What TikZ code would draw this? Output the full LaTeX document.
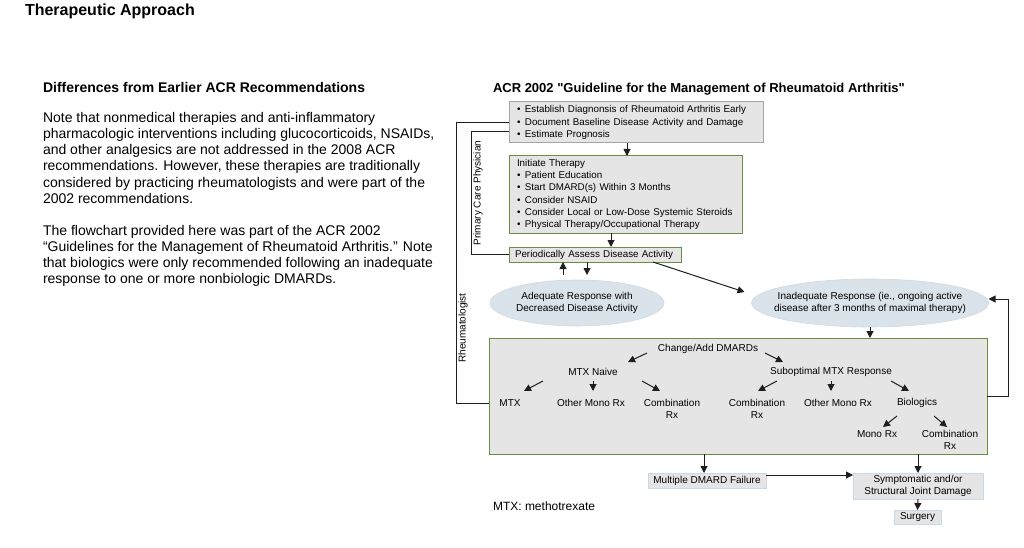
\documentclass[tikz,border=0pt]{standalone}
\usepackage{fontspec}
\setmainfont{Liberation Sans}
\usetikzlibrary{arrows.meta,calc,shapes.geometric}
\definecolor{boxfill}{RGB}{229,229,229}
\definecolor{boxgray}{RGB}{165,165,165}
\definecolor{boxgreen}{RGB}{104,144,62}
\definecolor{ellfill}{RGB}{219,227,234}
\definecolor{ellline}{RGB}{205,218,228}
\definecolor{lightline}{RGB}{200,218,230}
\definecolor{ink}{RGB}{30,30,30}
\begin{document}
\begin{tikzpicture}[x=1pt,y=-1pt,
 every node/.style={inner sep=0pt, outer sep=0pt},
 dtext/.style={font=\fontsize{10}{12.2}\selectfont, align=center},
 graybox/.style={draw=boxgray, fill=boxfill, line width=1pt, align=left, font=\fontsize{9.8}{12.2}\selectfont, inner xsep=8pt},
 greenbox/.style={graybox, draw=boxgreen},
 lightbox/.style={draw=lightline, fill=boxfill, line width=0.8pt, font=\fontsize{10}{12}\selectfont, align=center},
 ell/.style={ellipse, draw=ellline, fill=ellfill, line width=0.6pt, inner sep=0pt},
 arr/.style={draw=ink, line width=1pt, -{Triangle[length=7pt,width=7pt]}},
 conn/.style={draw=ink, line width=1pt},
 para/.style={anchor=base west, font=\fontsize{14}{16}\selectfont},
 side/.style={rotate=90, font=\fontsize{10}{12}\selectfont},
]
\useasboundingbox (0,0) rectangle (1024,548);

% left text
\node[anchor=base west, font=\fontsize{16}{18}\selectfont\bfseries] (title) at (25,16) {Therapeutic Approach};
\node[anchor=base west, font=\fontsize{14}{16}\selectfont\bfseries] (head) at (43,93) {Differences from Earlier ACR Recommendations};
\node[para] (p1) at (43,123) {Note that nonmedical therapies and anti-inflammatory};
\node[para] (p2) at (43,139) {pharmacologic interventions including glucocorticoids, NSAIDs,};
\node[para] (p3) at (43,155) {and other analgesics are not addressed in the 2008 ACR};
\node[para] (p4) at (43,171) {recommendations. However, these therapies are traditionally};
\node[para] (p5) at (43,187) {considered by practicing rheumatologists and were part of the};
\node[para] (p6) at (43,203) {2002 recommendations.};
\node[para] (p7) at (43,235) {The flowchart provided here was part of the ACR 2002};
\node[para] (p8) at (43,251) {“Guidelines for the Management of Rheumatoid Arthritis.” Note};
\node[para] (p9) at (43,267) {that biologics were only recommended following an inadequate};
\node[para] (p10) at (43,283) {response to one or more nonbiologic DMARDs.};

% chart title
\node[anchor=base west, font=\fontsize{13}{15}\selectfont\bfseries] (ctitle) at (493,92.5) {ACR 2002 \textquotedbl Guideline for the Management of Rheumatoid Arthritis\textquotedbl};

% boxes
\node[graybox, text width=238pt, minimum height=41pt] (box1) at (636,122.5)
 {•\hspace{4.5pt}Establish Diagnonsis of Rheumatoid Arthritis Early\\
  •\hspace{4.5pt}Document Baseline Disease Activity and Damage\\
  •\hspace{4.5pt}Estimate Prognosis};
\node[greenbox, text width=217pt, minimum height=77pt] (box2) at (625.5,194.5)
 {Initiate Therapy\\
  •\hspace{4.5pt}Patient Education\\
  •\hspace{4.5pt}Start DMARD(s) Within 3 Months\\
  •\hspace{4.5pt}Consider NSAID\\
  •\hspace{4.5pt}Consider Local or Low-Dose Systemic Steroids\\
  •\hspace{4.5pt}Physical Therapy/Occupational Therapy};
\node[greenbox, inner xsep=6pt, text width=160pt, minimum height=15pt] (box3) at (595,254.5)
 {\mbox{Periodically Assess Disease Activity}};

\node[ell, minimum width=174pt, minimum height=46pt] (ell1) at (577,303) {};
\node[dtext] (ell1t) at (ell1.center) {Adequate Response with\\Decreased Disease Activity};
\node[ell, minimum width=237pt, minimum height=48pt] (ell2) at (870,303) {};
\node[dtext] (ell2t) at (ell2.center) {Inadequate Response (ie., ongoing active\\disease after 3 months of maximal therapy)};

\node[greenbox, minimum width=498pt, minimum height=116pt, inner sep=0pt] (big) at (738,396) {};

% inside big box
\node[dtext] (cad) at (708,349) {Change/Add DMARDs};
\node[dtext] (mtxn) at (593,372) {MTX Naive};
\node[dtext] (sub) at (831,372) {Suboptimal MTX Response};
\node[dtext] (mtx) at (510,403) {MTX};
\node[dtext] (om1) at (591,403) {Other Mono Rx};
\node[dtext] (cr1) at (672,409) {Combination\\Rx};
\node[dtext] (cr2) at (757,409) {Combination\\Rx};
\node[dtext] (om2) at (838,403) {Other Mono Rx};
\node[dtext] (bio) at (917,403) {Biologics};
\node[dtext] (mono) at (877,434) {Mono Rx};
\node[dtext] (cr3) at (950,440) {Combination\\Rx};

% bottom boxes
\node[lightbox, minimum width=118pt, minimum height=15pt] (mdf) at (707,480.5) {Multiple DMARD Failure};
\node[lightbox, minimum width=130pt, minimum height=26pt] (sym) at (918,486) {Symptomatic and/or\\Structural Joint Damage};
\node[lightbox, minimum width=47pt, minimum height=14pt] (surg) at (917.5,517) {Surgery};

\node[anchor=base west, font=\fontsize{12}{14}\selectfont] (note) at (493,510) {MTX: methotrexate};

% side labels
\node[side] (pcp) at (478,193) {Primary Care Physician};
\node[side] (rheu) at (463,328) {Rheumatologist};

% connectors
\draw[arr] ([xshift=-9pt]box1.south) -- ([xshift=-9pt]box1.south |- box2.north);
\draw[arr] ([xshift=-14.5pt]box2.south) -- ([xshift=-14.5pt]box2.south |- box3.north);
\draw[arr] ([xshift=-32pt,yshift=-13pt]box3.south) -- ([xshift=-32pt]box3.south);
\draw[arr] ([xshift=-8pt]box3.south) -- ([xshift=-8pt,yshift=-13pt]box3.south);
\draw[arr] ([xshift=58pt]box3.south) -- ([xshift=-7pt,yshift=11pt]ell2.west);
\draw[arr] (ell2.south) -- (ell2.south |- big.north);
\draw[arr] (big.east) -- ++(21,0) |- ([yshift=4pt]ell2.east);
\draw[conn] (box1.west) -- ++(-53,0) |- ([yshift=-7pt]big.west);
\draw[conn] (box3.west) -- ++(-38,0) |- ([yshift=-9.5pt]box1.west);

\draw[arr] ($(cad)+(-61,4)$) -- ($(cad)+(-80,13)$);
\draw[arr] ($(cad)+(57,4)$) -- ($(cad)+(75,13)$);
\draw[arr] ($(mtxn)+(-50,9)$) -- ($(mtxn)+(-69,19)$);
\draw[arr] ($(mtxn)+(0,9)$) -- ($(mtxn)+(0,19)$);
\draw[arr] ($(mtxn)+(49,9)$) -- ($(mtxn)+(67,19)$);
\draw[arr] ($(sub)+(-54,9)$) -- ($(sub)+(-73,19)$);
\draw[arr] ($(sub)+(0,9)$) -- ($(sub)+(0,19)$);
\draw[arr] ($(sub)+(60,9)$) -- ($(sub)+(78,19)$);
\draw[arr] ($(bio)+(-20,13)$) -- ($(bio)+(-34,24)$);
\draw[arr] ($(bio)+(17,13)$) -- ($(bio)+(30,24)$);

\draw[arr] ([xshift=-3pt]mdf.north |- big.south) -- ([xshift=-3pt]mdf.north);
\draw[arr] (sym.north |- big.south) -- (sym.north);
\draw[arr] ([yshift=5.5pt]mdf.east) -- ([yshift=5.5pt]mdf.east -| sym.west);
\draw[arr] (sym.south) -- (surg.north);
\end{tikzpicture}
\end{document}
